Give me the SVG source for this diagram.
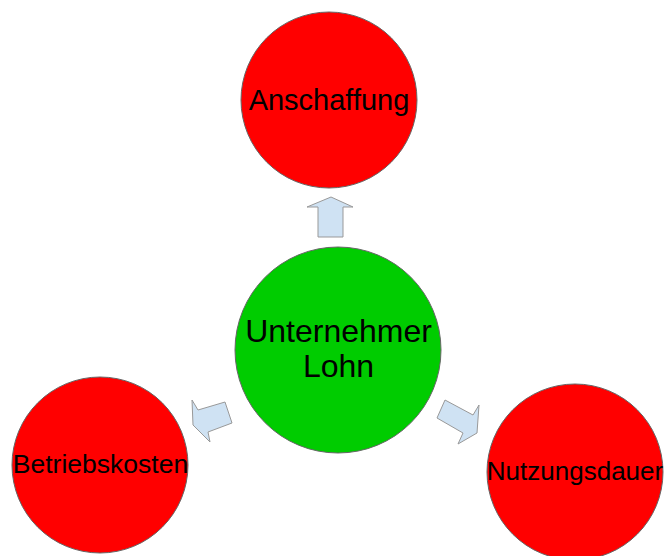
<svg xmlns="http://www.w3.org/2000/svg" width="664" height="556" viewBox="0 0 664 556">
<style>
.red{fill:#ff0000;stroke:#666666;stroke-width:1}
.green{fill:#00cc00;stroke:#666666;stroke-width:1}
.arrow{fill:#cfe2f3;stroke:#999999;stroke-width:1;stroke-linejoin:miter}
text{font-family:"Liberation Sans",Arial,sans-serif;fill:#000000;text-anchor:middle}
</style>
<rect width="664" height="556" fill="#ffffff"/>
<g id="connectors">
<polygon class="arrow" points="331,197 353,207 343,207 343,237 318,237 318,207 307,207"/>
<polygon class="arrow" points="192,400 198,410 225,402 232,423 208,432 210,442 193,425"/>
<polygon class="arrow" points="445,400 473,415 479,405 477,433 458,444 463,433 437,418"/>
</g>
<g id="anschaffung">
<circle class="red" cx="329" cy="100" r="88"/>
<text x="329" y="110" font-size="29">Anschaffung</text>
</g>
<g id="unternehmer-lohn">
<circle class="green" cx="338" cy="350" r="103"/>
<text x="338.5" y="342" font-size="32">Unternehmer</text>
<text x="338.5" y="377" font-size="32">Lohn</text>
</g>
<g id="betriebskosten">
<circle class="red" cx="100" cy="465" r="88"/>
<text x="100.5" y="473" font-size="26.5">Betriebskosten</text>
</g>
<g id="nutzungsdauer">
<circle class="red" cx="575" cy="472" r="88"/>
<text x="575" y="480" font-size="26">Nutzungsdauer</text>
</g>
</svg>
